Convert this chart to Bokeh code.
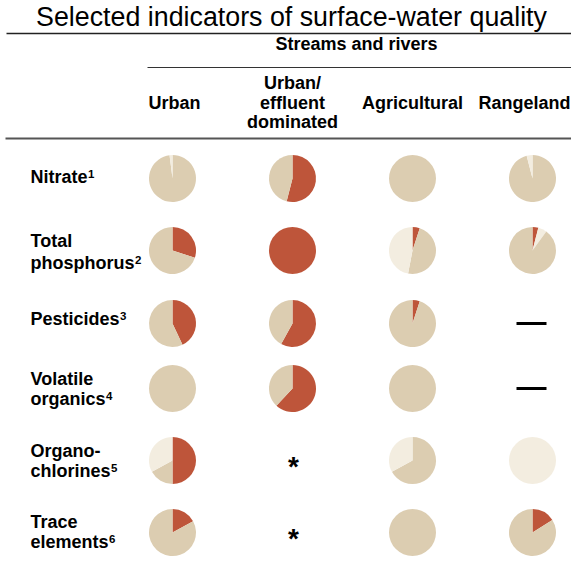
import math
from bokeh.plotting import figure
from bokeh.models import Range1d
from bokeh.core.properties import value
from bokeh.embed import file_html
from bokeh.resources import INLINE

# ---------------- data ----------------
title_text = "Selected indicators of surface-water quality"
group_label = "Streams and rivers"
land_use = [["Urban"], ["Urban/", "effluent", "dominated"], ["Agricultural"], ["Rangeland"]]
indicators = [["Nitrate"], ["Total", "phosphorus"], ["Pesticides"],
              ["Volatile", "organics"], ["Organo-", "chlorines"], ["Trace", "elements"]]
footnotes = ["1", "2", "3", "4", "5", "6"]

# percent of sites in each class (rows = indicators, cols = land use); None = no pie
high_pct = [
    [0, 54, 0, 0],
    [30, 100, 5, 4],
    [43, 58, 5, None],
    [0, 62, 0, None],
    [50, None, 0, 0],
    [17, None, 0, 16],
]
mid_pct = [
    [98, 46, 100, 96],
    [70, 0, 48, 90],
    [57, 42, 95, None],
    [100, 38, 100, None],
    [17, None, 67, 0],
    [83, None, 100, 84],
]
low_pct = [
    [2, 0, 0, 4],
    [0, 0, 47, 6],
    [0, 0, 0, None],
    [0, 0, 0, None],
    [33, None, 33, 100],
    [0, None, 0, 0],
]
# cells without pies: dash = not assessed, star = insufficient data
nodata_row = [2, 3, 4, 5]
nodata_col = [3, 3, 1, 1]
nodata_kind = ["dash", "dash", "star", "star"]
# slice order clockwise from 12 o'clock (one exception in the source figure)
default_order = ["high", "mid", "low"]
order_override = {(1, 3): ["high", "low", "mid"]}

# ---------------- style / layout ----------------
RED, TAN, CREAM = "#BE553A", "#DCCDB1", "#F3EDE0"
COLORS = {"high": RED, "mid": TAN, "low": CREAM}
FONT = value("Liberation Sans")
W, H = 571, 558
COL_X = [172, 292, 412, 532]
HEAD_X = [174, 292, 412, 524]
ROW_Y = [178, 250, 323, 388, 460, 532]
LABEL_Y = [[176], [240, 262], [318], [378, 398], [450, 470], [521, 541]]
R = 23.5
BOLD = "18px"

# Arial/Liberation Sans Bold advance widths (per 1000 em) for label measuring
AW = dict(zip("abcdefghijklmnopqrstuvwxyz",
              [556, 611, 556, 611, 556, 333, 611, 611, 278, 278, 556, 278, 889,
               611, 611, 611, 611, 389, 556, 333, 611, 556, 778, 556, 556, 500]))
AW.update({"N": 722, "T": 667, "P": 667, "V": 667, "O": 778, "-": 333})

def text_w(s, px):
    return sum(AW.get(ch, 556) for ch in s) * px / 1000.0

def Y(sy):
    return H - sy

p = figure(width=W, height=H, output_backend="svg", toolbar_location=None,
           x_range=Range1d(0, W), y_range=Range1d(0, H), min_border=0)
p.axis.visible = False
p.grid.visible = False
p.outline_line_color = None
p.background_fill_color = "white"
p.border_fill_color = "white"

# pies
wx, wy, ws, we, wc = [], [], [], [], []
cx, cy, cc = [], [], []
vals = {"high": high_pct, "mid": mid_pct, "low": low_pct}
for i in range(len(indicators)):
    for j in range(len(land_use)):
        if high_pct[i][j] is None:
            continue
        order = order_override.get((i, j), default_order)
        total = sum(vals[k][i][j] for k in order)
        cum = 0.0
        for k in order:
            v = vals[k][i][j] / total
            if v <= 0:
                continue
            if v >= 0.999:
                cx.append(COL_X[j]); cy.append(Y(ROW_Y[i])); cc.append(COLORS[k])
            else:
                wx.append(COL_X[j]); wy.append(Y(ROW_Y[i]))
                ws.append(math.pi / 2 - 2 * math.pi * cum)
                we.append(math.pi / 2 - 2 * math.pi * (cum + v))
                wc.append(COLORS[k])
            cum += v

p.circle(x=cx, y=cy, radius=R, fill_color=cc, line_color=None)
p.wedge(x=wx, y=wy, radius=R, start_angle=ws, end_angle=we, direction="clock",
        fill_color=wc, line_color=None)

# no-data marks
for r, c, kind in zip(nodata_row, nodata_col, nodata_kind):
    if kind == "dash":
        p.segment(x0=[COL_X[c] - 16], y0=[Y(ROW_Y[r])], x1=[COL_X[c] + 14], y1=[Y(ROW_Y[r])],
                  line_color="black", line_width=3)
    else:
        p.text(x=[COL_X[c] + 1], y=[Y(ROW_Y[r] + 6)], text=["*"], text_font=FONT,
               text_font_size="28px", text_font_style="bold", text_align="center",
               text_baseline="middle", text_color="black")

# title and rules
p.text(x=[291], y=[Y(16.5)], text=[title_text], text_font=FONT, text_font_size="26.8px",
       text_align="center", text_baseline="middle", text_color="black")
p.segment(x0=[6], y0=[Y(33)], x1=[W], y1=[Y(33)], line_color="#222", line_width=1.5)
p.text(x=[356], y=[Y(43.5)], text=[group_label], text_font=FONT, text_font_size=BOLD,
       text_font_style="bold", text_align="center", text_baseline="middle", text_color="black")
p.segment(x0=[147], y0=[Y(67)], x1=[W], y1=[Y(67)], line_color="#333", line_width=1.2)
p.segment(x0=[5], y0=[Y(138)], x1=[W], y1=[Y(138)], line_color="#555", line_width=2)

# column headers
HEAD_Y = {1: [102], 3: [82, 102, 121]}
for j, lines in enumerate(land_use):
    ys = HEAD_Y[len(lines)]
    p.text(x=[HEAD_X[j]] * len(lines), y=[Y(v) for v in ys], text=lines, text_font=FONT,
           text_font_size=BOLD, text_font_style="bold", text_align="center",
           text_baseline="middle", text_color="black")

# row labels with superscript footnote numbers
for i, lines in enumerate(indicators):
    ys = LABEL_Y[i]
    p.text(x=[30] * len(lines), y=[Y(v) for v in ys], text=lines, text_font=FONT,
           text_font_size=BOLD, text_font_style="bold", text_align="left",
           text_baseline="middle", text_color="black")
    last = lines[-1]
    p.text(x=[30 + text_w(last, 18) + 0.5], y=[Y(ys[-1] - 2.5)], text=[footnotes[i]],
           text_font=FONT, text_font_size="11.5px", text_font_style="bold", text_align="left",
           text_baseline="middle", text_color="black")

open("out.html", "w").write(file_html(p, INLINE))
